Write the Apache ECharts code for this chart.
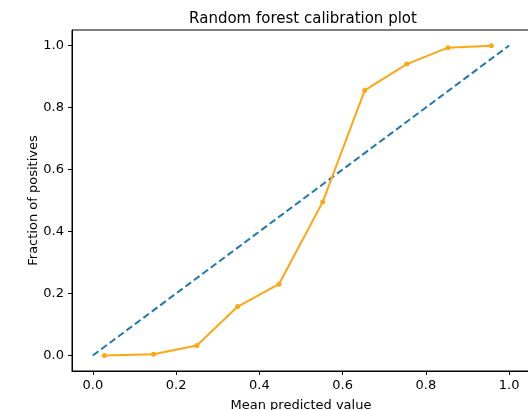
<!DOCTYPE html>
<html>
<head>
<meta charset="utf-8">
<script src="https://cdn.jsdelivr.net/npm/echarts@6/dist/echarts.min.js"></script>
<style>
  html, body { margin: 0; padding: 0; background: #fff; }
  #chart { width: 528px; height: 410px; }
</style>
</head>
<body>
<div id="chart"></div>
<script>
    // calibration curve
    var meanPredicted = [0.028, 0.146, 0.25, 0.348, 0.447, 0.552, 0.653, 0.754, 0.853, 0.957];
    var fractionPositives = [0.0, 0.004, 0.032, 0.158, 0.23, 0.495, 0.855, 0.94, 0.993, 0.999];
    // perfectly calibrated reference
    var diagX = [0, 1];
    var diagY = [0, 1];
    var tickValues = [0, 0.2, 0.4, 0.6, 0.8, 1.0];

    var mychart = echarts.init(document.getElementById('chart'));
    var font = 'DejaVu Sans';

    var option = {
        animation: false,
        title: {
            text: 'Random forest calibration plot',
            left: 298,
            textAlign: 'center',
            top: 7,
            textStyle: { fontFamily: font, fontSize: 15, fontWeight: 'normal', color: '#000' }
        },
        grid: {
            left: 72, top: 30, right: -2, bottom: 39,
            outerBoundsMode: 'none',
            containLabel: false,
            show: true, borderColor: '#000', borderWidth: 1
        },
        xAxis: {
            type: 'value',
            min: -0.05, max: 1.05,
            name: 'Mean predicted value',
            nameLocation: 'middle',
            nameGap: 28,
            nameTextStyle: { fontFamily: font, fontSize: 13, color: '#000' },
            axisLine: { show: true, onZero: false, lineStyle: { color: '#000', width: 1 } },
            axisTick: { show: true, length: 4, customValues: tickValues, lineStyle: { color: '#000' } },
            axisLabel: {
                customValues: tickValues,
                fontFamily: font, fontSize: 13, color: '#000', margin: 8,
                formatter: function (v) { return v.toFixed(1); }
            },
            splitLine: { show: false }
        },
        yAxis: {
            type: 'value',
            min: -0.05, max: 1.05,
            name: 'Fraction of positives',
            nameLocation: 'middle',
            nameGap: 32,
            nameMoveOverlap: false,
            nameRotate: 90,
            nameTextStyle: { fontFamily: font, fontSize: 13, color: '#000' },
            axisLine: { show: true, onZero: false, lineStyle: { color: '#000', width: 1 } },
            axisTick: { show: true, length: 4, customValues: tickValues, lineStyle: { color: '#000' } },
            axisLabel: {
                customValues: tickValues,
                fontFamily: font, fontSize: 13, color: '#000', margin: 8,
                formatter: function (v) { return v.toFixed(1); }
            },
            splitLine: { show: false }
        },
        series: [{
            type: 'line',
            data: diagX.map(function (x, i) { return [x, diagY[i]]; }),
            showSymbol: false,
            lineStyle: { color: '#1f77b4', width: 2, type: [7, 3.5] },
            z: 2
        }, {
            type: 'line',
            data: meanPredicted.map(function (x, i) { return [x, fractionPositives[i]]; }),
            symbol: 'circle',
            symbolSize: 5,
            itemStyle: { color: '#fca714' },
            lineStyle: { color: '#fca714', width: 2 },
            z: 3
        }]
    };

    mychart.setOption(option);
</script>
</body>
</html>
